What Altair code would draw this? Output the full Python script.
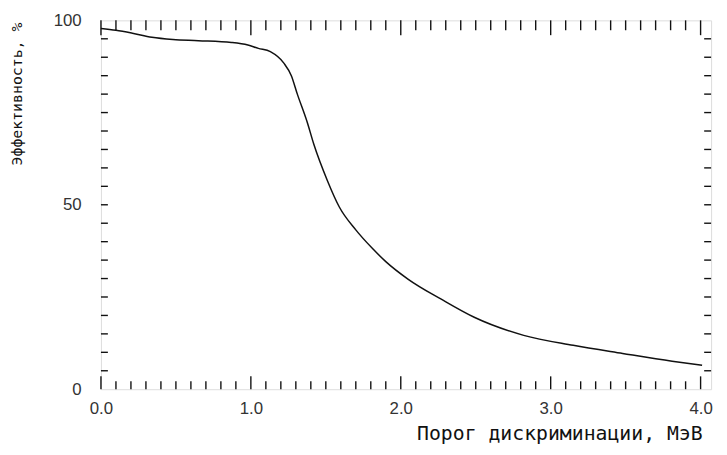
import altair as alt
import pandas as pd

# Curve data (threshold MeV, efficiency %)
thr = [0.0, 0.1, 0.21, 0.34, 0.48, 0.65, 0.87, 0.98, 1.05, 1.13, 1.22, 1.27,
       1.31, 1.375, 1.42, 1.51, 1.59, 1.70, 1.81, 1.90, 2.05, 2.27,
       2.49, 2.82, 3.15, 3.48, 3.81, 4.01]
eff = [97.8, 97.3, 96.5, 95.4, 94.8, 94.5, 94.0, 93.3, 92.4, 91.5, 88.4, 85.0,
       80.0, 72.5, 66.4, 56.6, 49.4, 43.2, 38.2, 34.6, 29.8, 24.4,
       19.5, 14.6, 11.9, 9.7, 7.6, 6.5]

x_labels = [0, 1, 2, 3, 4]
y_labels = [0, 50, 100]
x_minor = [round(i * 0.1, 1) for i in range(41) if i % 10 != 0]
x_major = [0, 1, 2, 3, 4]
y_ticks = [5 * i for i in range(1, 20)]

XMAX = 4.07
W, H = 617, 373

df = pd.DataFrame({"thr": thr, "eff": eff})
xs = alt.Scale(domain=[0, XMAX], nice=False, zero=False)
ys = alt.Scale(domain=[0, 100], nice=False)

x_axis = alt.Axis(values=x_labels, format=".1f", ticks=False, domain=False, grid=False,
                  labelFont="Liberation Sans", labelFontSize=17, labelColor="#333",
                  labelPadding=12, labelFlush=False,
                  title="Порог дискриминации,  МэВ", titleFont="DejaVu Sans Mono",
                  titleFontSize=20, titleFontWeight="normal", titleColor="#111",
                  titleAlign="right", titleAnchor="end", titleX=608, titleY=45,
                  titleBaseline="middle")
y_axis = alt.Axis(values=y_labels, ticks=False, domain=False, grid=False,
                  labelFont="Liberation Sans", labelFontSize=17, labelColor="#333",
                  labelPadding=20,
                  title="Эффективность, %", titleFont="DejaVu Sans Mono",
                  titleFontSize=15, titleFontWeight="normal", titleColor="#111",
                  titleAngle=-90, titleX=-85, titleY=74, titleAlign="center",
                  titleBaseline="middle")

line = alt.Chart(df).mark_line(color="#111", strokeWidth=1.5, interpolate="monotone").encode(
    x=alt.X("thr:Q", scale=xs, axis=x_axis),
    y=alt.Y("eff:Q", scale=ys, axis=y_axis),
)

def xticks(vals, ypos, off):
    d = pd.DataFrame({"v": vals})
    return alt.Chart(d).mark_rule(color="#111", strokeWidth=1.4, y2Offset=off).encode(
        x=alt.X("v:Q", scale=xs), y=alt.datum(ypos), y2=alt.datum(ypos))

def yticks(vals, xpos, off):
    d = pd.DataFrame({"v": vals})
    return alt.Chart(d).mark_rule(color="#111", strokeWidth=1.4, x2Offset=off).encode(
        y=alt.Y("v:Q", scale=ys), x=alt.datum(xpos), x2=alt.datum(xpos))

chart = alt.layer(
    xticks(x_minor, 0, -8), xticks(x_major, 0, -13),
    xticks(x_minor, 100, 10), xticks(x_major, 100, 15),
    yticks(y_ticks, 0, 7), yticks(y_ticks, XMAX, -7),
    line,
).properties(
    width=W, height=H,
    autosize=alt.AutoSizeParams(type="none"),
    padding={"left": 94, "top": 10, "right": 8, "bottom": 60},
).configure_view(stroke="#111", strokeWidth=1.6).configure(background="white")

chart.save("out.html", embed_options={"renderer": "svg", "actions": False})
